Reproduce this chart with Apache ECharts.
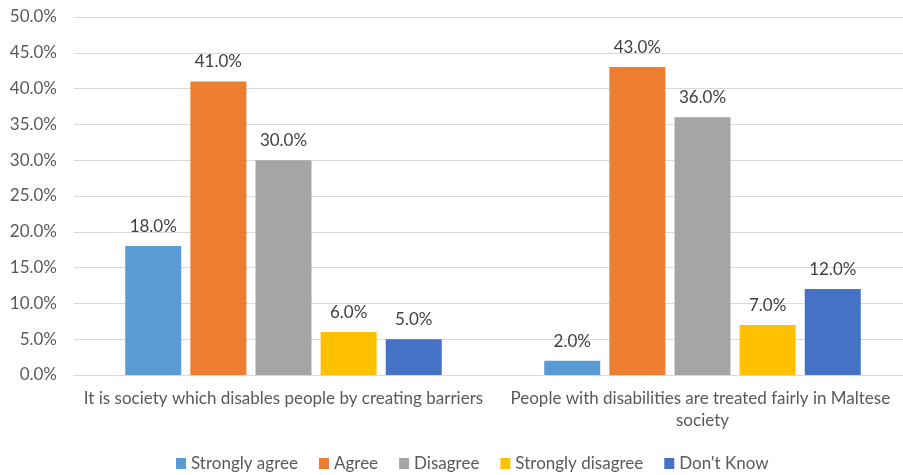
<!DOCTYPE html>
<html>
<head>
<meta charset="utf-8">
<script src="https://cdn.jsdelivr.net/npm/echarts@6/dist/echarts.min.js"></script>
<style>
  html, body { margin: 0; padding: 0; background: #fff; overflow: hidden; }
  /* plot runs a little past the right edge of the window */
  #chart { width: 914px; height: 475px; }
</style>
</head>
<body>
<div id="chart"></div>
<script>
// Survey statements (categories)
const statements = [
  'It is society which disables people by creating barriers',
  'People with disabilities are treated fairly in Maltese society'
];

// Response shares, in percent
const stronglyAgree    = [18.0, 2.0];
const agree            = [41.0, 43.0];
const disagree         = [30.0, 36.0];
const stronglyDisagree = [6.0, 7.0];
const dontKnow         = [5.0, 12.0];

const seriesNames  = ['Strongly agree', 'Agree', 'Disagree', 'Strongly disagree', "Don't Know"];
const seriesValues = [stronglyAgree, agree, disagree, stronglyDisagree, dontKnow];
const seriesColors = ['#5B9BD5', '#ED7D31', '#A5A5A5', '#FFC000', '#4472C4'];

const FONT = 'Lato';
const TEXT = '#595959';

const chart = echarts.init(document.getElementById('chart'), null, { renderer: 'canvas' });

chart.setOption({
  animation: false,
  textStyle: { fontFamily: FONT },
  color: seriesColors,
  grid: { left: 74, top: 17, right: 0, bottom: 100, containLabel: false },
  legend: {
    top: 455,
    left: 176,
    padding: 0,
    icon: 'rect',
    itemWidth: 10,
    itemHeight: 11,
    itemGap: 21,
    textStyle: { fontFamily: FONT, fontSize: 17, color: TEXT },
    data: seriesNames
  },
  xAxis: {
    type: 'category',
    data: statements,
    axisTick: { show: false },
    axisLine: { lineStyle: { color: '#D9D9D9' } },
    axisLabel: {
      fontFamily: FONT,
      fontSize: 17,
      color: TEXT,
      margin: 13,
      lineHeight: 22,
      width: 418,
      overflow: 'break',
      interval: 0
    }
  },
  yAxis: {
    type: 'value',
    min: 0,
    max: 50,
    interval: 5,
    axisLine: { show: false },
    axisTick: { show: false },
    splitLine: { lineStyle: { color: '#D9D9D9', width: 1 } },
    axisLabel: {
      fontFamily: FONT,
      fontSize: 17,
      color: TEXT,
      margin: 17,
      formatter: v => v.toFixed(1) + '%'
    }
  },
  series: seriesNames.map((name, i) => ({
    name,
    type: 'bar',
    data: seriesValues[i],
    barWidth: 56,
    barGap: '16.3%',
    itemStyle: { color: seriesColors[i] },
    label: {
      show: true,
      position: 'top',
      distance: 11,
      fontFamily: FONT,
      fontSize: 17,
      color: '#404040',
      formatter: p => p.value.toFixed(1) + '%'
    }
  }))
});
</script>
</body>
</html>
